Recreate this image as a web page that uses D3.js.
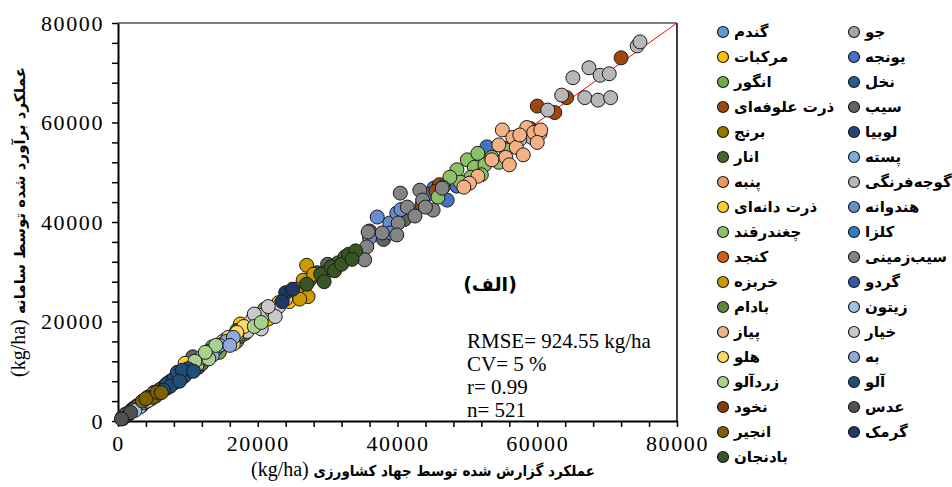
<!DOCTYPE html>
<html><head><meta charset="utf-8">
<script src="https://cdn.jsdelivr.net/npm/d3@7"></script>
<style>body{margin:0;background:#fff}</style>
</head><body>
<svg id="chart" width="952" height="487"></svg>
<script>
// ---- data ----
const cropNames = ["گندم","جو","مرکبات","یونجه","انگور","نخل","ذرت علوفه\u200cای","سیب","برنج","لوبیا","انار","پسته","پنبه","گوجه\u200cفرنگی","ذرت دانه\u200cای","هندوانه","چغندرقند","کلزا","کنجد","سیب\u200cزمینی","خربزه","گردو","بادام","زیتون","پیاز","خیار","هلو","به","زردآلو","آلو","نخود","عدس","انجیر","گرمک","بادنجان"];
const cropColors = ["#5B9BD5","#A5A5A5","#FFC000","#4472C4","#70AD47","#255E91","#9E480E","#636363","#997300","#264478","#43682B","#7CAFDD","#F1975A","#B7B7B7","#FFCD33","#698ED0","#8CC168","#327DC2","#D26012","#848484","#CC9A00","#335AA1","#5A8A39","#9DC3E6","#F4B183","#C9C9C9","#FFD966","#8FAADC","#A9D18E","#1F4E79","#843C0C","#525252","#7F6000","#203864","#375623"];
// [reported, estimated] pairs, kg/ha
const seriesPoints = [
 [[2800,3000],[3200,3100],[3600,3800],[4100,4000],[4500,4700],[5000,4900],[5600,5800],[6200,6000],[2400,2600],[3900,4300],[5200,5600],[4700,4400],[6500,6800],[7000,6600]],
 [[2200,2300],[2600,2800],[3000,2900],[3400,3500],[3800,4000],[1800,1900],[4300,4200]],
 [[17500,19500],[19500,21200],[20500,20000],[18200,17600],[22000,21500],[16000,16800],[24500,24000],[21500,20500],[23000,23800]],
 [[45200,46800],[47100,44400],[52800,55100],[44300,45500],[48500,47200]],
 [[13500,14900],[15500,16500],[17000,16000],[18500,19000],[14500,13800],[21000,22500]],
 [[6800,7200],[7500,8000],[8200,7800],[9000,9400],[6000,6300],[10500,11000],[11500,10800]],
 [[72000,73000],[64200,65000],[60000,63300],[57800,57500],[59000,58800],[46000,47500],[45500,46200],[43500,43400],[41500,42200],[56000,55000],[62500,62000]],
 [[36000,38200],[39500,39000],[41000,40500],[38000,36500],[10700,12900],[25000,26000],[30000,31500],[12000,11500],[13200,13500]],
 [[4800,5200],[5400,5000],[6000,6300],[6500,6400],[5200,5800],[7000,7300]],
 [[2000,2200],[2500,2400],[2800,3000]],
 [[16500,16900],[17500,17000],[18000,18500],[16000,16200],[19000,18800],[27500,28500],[28500,29800],[30000,30200],[31500,31800],[32500,33000],[17000,18200],[19800,20500]],
 [[1200,1400],[1600,1500],[2000,2300],[2600,2500]],
 [[3000,3200],[3500,3300],[4000,4200],[2600,2900]],
 [[74300,75400],[74700,76200],[65100,69000],[67400,71000],[69000,69500],[70300,69800],[66800,65000],[68700,64500],[70500,65000],[63500,65500],[59200,57000],[60400,57800],[57500,56600],[61500,62500]],
 [[8500,9000],[9600,11600],[10000,9800],[9000,8600],[11000,11500],[7800,8200],[9300,9200]],
 [[37100,41000],[38900,39800],[39900,41800],[39000,37800],[40500,42500],[36000,36800]],
 [[48500,50500],[50000,52500],[51000,51000],[52500,51500],[53500,53000],[50500,49000],[49000,48000],[52000,49500],[54500,52000],[47500,49000],[51500,53800],[46500,47000],[45800,45000],[55500,54500]],
 [[2200,2500],[2800,2700],[3200,3400]],
 [[900,1100],[1200,1300],[1500,1400]],
 [[40400,45800],[41400,43000],[40100,39800],[37800,37800],[35800,38000],[35600,35000],[35300,32400],[39900,37400],[43200,46400],[43600,44400],[45100,42400],[46400,46800],[42500,41200],[44000,43000]],
 [[26500,28300],[27000,31300],[25500,26500],[27200,25000],[26000,24500],[28000,29500]],
 [[2800,3100],[3300,3000],[3800,3900]],
 [[1800,2000],[2400,2500],[3000,3200]],
 [[3100,2800],[3600,3700],[4200,4000],[2400,2100],[5000,5400]],
 [[55000,58500],[56500,57000],[58500,59000],[59500,58000],[60500,58500],[57000,55000],[58000,53500],[55500,53000],[54500,55500],[53500,52500],[60000,56000],[56000,51500],[51500,49200],[50300,47800],[49500,47000],[57500,57500]],
 [[19000,20000],[20000,19500],[21000,21500],[22000,22200],[23000,23000],[24000,24500],[20500,18500],[18500,18000],[22500,21000],[19500,21500],[17000,17300],[21500,23000]],
 [[15000,16000],[16500,15500],[14000,14500],[18000,19000],[17000,17800],[15800,16800]],
 [[13000,14000],[14000,14500],[15000,15500],[15500,16000],[12500,13500],[14500,15200],[16500,16800],[12000,12800],[13500,13200],[16000,15200],[11500,12000]],
 [[11300,11300],[12000,12800],[13000,12500],[11000,12000],[19500,19000],[20500,19800],[14000,15200],[12500,13800]],
 [[7000,7500],[8000,8500],[9000,9500],[9500,9000],[8500,9800],[7500,7000],[10000,10500],[6500,6200],[9200,10200],[8800,8000],[10800,10000]],
 [[800,900],[1100,1000],[1400,1500]],
 [[600,700],[900,1000],[1200,1100],[1500,1600],[1000,1300],[700,500],[1800,1700],[500,400]],
 [[3500,4000],[4300,4800],[5000,4800],[4000,4500],[5600,5800],[6200,5700]],
 [[24000,25800],[25000,26500],[23500,24000]],
 [[29000,29500],[30500,31000],[31000,30200],[32000,31500],[33000,33500],[34000,34200],[27000,27500],[29500,28000],[33500,32500]]
];
const legendLeft = ["گندم","مرکبات","انگور","ذرت علوفه\u200cای","برنج","انار","پنبه","ذرت دانه\u200cای","چغندرقند","کنجد","خربزه","بادام","پیاز","هلو","زردآلو","نخود","انجیر","بادنجان"];
const legendRight = ["جو","یونجه","نخل","سیب","لوبیا","پسته","گوجه\u200cفرنگی","هندوانه","کلزا","سیب\u200cزمینی","گردو","زیتون","خیار","به","آلو","عدس","گرمک"];
const tickValues = d3.range(0, 80001, 4000);
const tickLabels = [0, 20000, 40000, 60000, 80000];
const statsLines = ["RMSE= 924.55 kg/ha","CV= 5 %","r= 0.99","n= 521"];
const panelLabel = "(الف)";
const xTitle = "عملکرد گزارش شده توسط جهاد کشاورزی ";
const yTitle = "عملکرد برآورد شده توسط سامانه ";
const unit = "(kg/ha)";

// ---- drawing ----
const svg = d3.select("#chart");
const x = d3.scaleLinear().domain([0, 80000]).range([118, 677]);
const y = d3.scaleLinear().domain([0, 80000]).range([421, 23]);
const serif = "'Liberation Serif','Times New Roman',serif";
const fa = "'DejaVu Sans',sans-serif";
const faCond = "'DejaVu Sans Condensed','DejaVu Sans',sans-serif";
const colorOf = new Map(cropNames.map((n, i) => [n, cropColors[i]]));

// frame top/right
svg.append("line").attr("x1", x(0)).attr("x2", x(80000)).attr("y1", y(80000)).attr("y2", y(80000)).attr("stroke", "#000").attr("stroke-width", 1);
svg.append("line").attr("x1", x(80000)).attr("x2", x(80000)).attr("y1", y(80000)).attr("y2", y(0)).attr("stroke", "#000").attr("stroke-width", 1.5);

// 1:1 line
svg.append("line").attr("x1", x(0)).attr("y1", y(0)).attr("x2", x(80000)).attr("y2", y(80000)).attr("stroke", "#ff0000").attr("stroke-width", 1);

// axes
const fmt = d => tickLabels.includes(d) ? String(d) : "";
const xAxis = svg.append("g").attr("transform", `translate(0,${y(0)})`)
  .call(d3.axisBottom(x).tickValues(tickValues).tickFormat(fmt).tickSize(6).tickSizeOuter(0).tickPadding(8));
const yAxis = svg.append("g").attr("transform", `translate(${x(0)},0)`)
  .call(d3.axisLeft(y).tickValues(tickValues).tickFormat(fmt).tickSize(6).tickSizeOuter(0).tickPadding(8));
[xAxis, yAxis].forEach(g => {
  g.select(".domain").attr("stroke", "#000").attr("stroke-width", 2);
  g.selectAll(".tick line").attr("stroke", "#000").attr("stroke-width", 1.5);
  g.selectAll(".tick text").attr("font-family", serif).attr("font-size", 22).attr("letter-spacing", 1.6).attr("fill", "#000");
});

// points
cropNames.forEach((name, i) => {
  svg.append("g").selectAll("circle").data(seriesPoints[i]).join("circle")
    .attr("cx", d => x(d[0])).attr("cy", d => y(d[1])).attr("r", 7)
    .attr("fill", cropColors[i]).attr("stroke", "#1a1a1a").attr("stroke-width", 1);
});

// stats text
svg.append("text").attr("x", 490).attr("y", 291).attr("text-anchor", "middle")
  .attr("font-family", fa).attr("font-weight", "bold").attr("font-size", 19).text(panelLabel);
statsLines.forEach((s, i) => {
  svg.append("text").attr("x", 467).attr("y", 348 + i * 23).attr("font-family", serif)
    .attr("font-size", 21).attr("fill", "#000").text(s);
});

// axis titles
const xt = svg.append("text").attr("x", 423).attr("y", 476).attr("text-anchor", "middle")
  .attr("direction", "rtl").attr("font-family", faCond).attr("font-weight", "bold").attr("font-size", 15);
xt.append("tspan").text(xTitle);
xt.append("tspan").attr("font-family", serif).attr("font-weight", "normal").attr("font-size", 20).text(unit);
const yt = svg.append("text").attr("transform", "translate(25,222) rotate(-90)").attr("text-anchor", "middle")
  .attr("direction", "rtl").attr("font-family", fa).attr("font-weight", "bold").attr("font-size", 15);
yt.append("tspan").text(yTitle);
yt.append("tspan").attr("font-family", serif).attr("font-weight", "normal").attr("font-size", 20).text(unit);

// legend
function legendCol(names, cx) {
  const g = svg.append("g");
  names.forEach((n, i) => {
    const cy = 32 + i * 25;
    g.append("circle").attr("cx", cx).attr("cy", cy).attr("r", 5.5).attr("fill", colorOf.get(n)).attr("stroke", "#1a1a1a").attr("stroke-width", 1.2);
    g.append("text").attr("x", cx + 11).attr("y", cy).attr("dominant-baseline", "central")
      .attr("font-family", fa).attr("font-weight", "bold").attr("font-size", 15).attr("fill", "#000").text(n);
  });
}
legendCol(legendLeft, 723);
legendCol(legendRight, 854);
</script>
</body></html>
